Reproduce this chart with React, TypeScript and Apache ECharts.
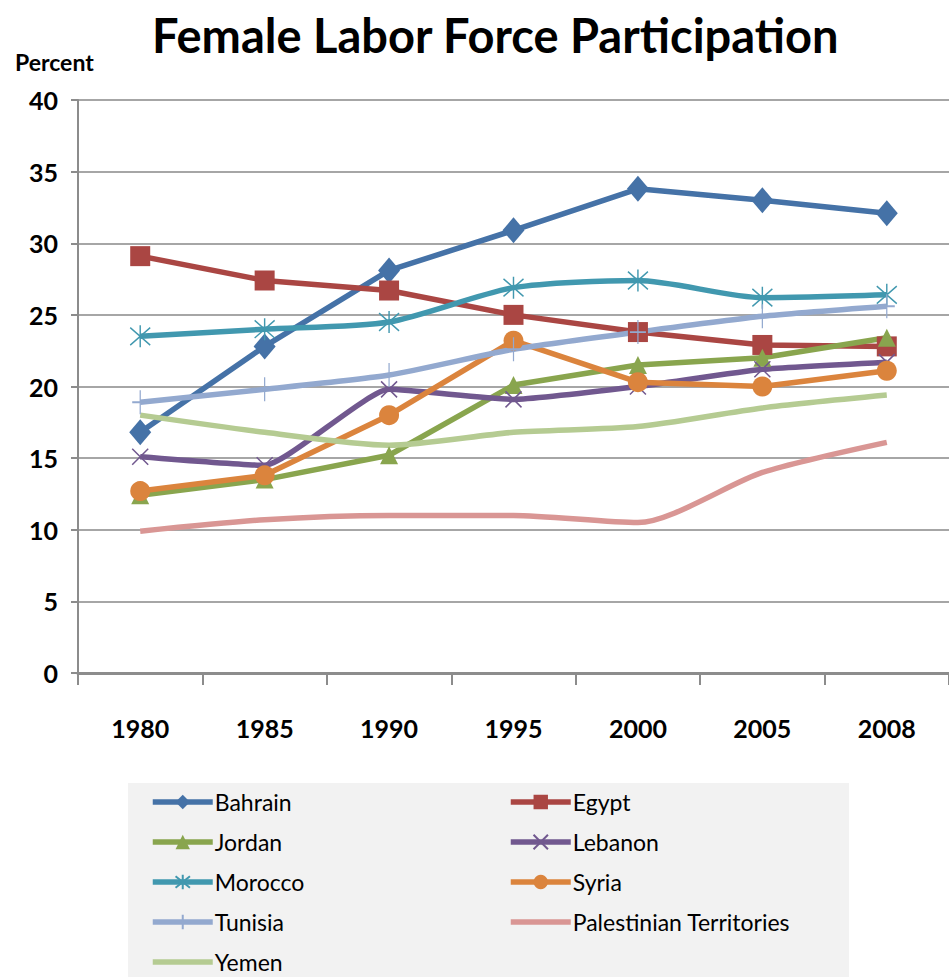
import React, { useEffect, useRef } from "react";
import * as echarts from "echarts";

const years = ["1980", "1985", "1990", "1995", "2000", "2005", "2008"];
const bahrain = [16.8, 22.8, 28.1, 30.9, 33.8, 33.0, 32.1];
const egypt = [29.1, 27.4, 26.7, 25.0, 23.8, 22.9, 22.8];
const jordan = [12.4, 13.5, 15.2, 20.1, 21.5, 22.0, 23.4];
const lebanon = [15.1, 14.5, 19.8, 19.1, 20.0, 21.2, 21.7];
const morocco = [23.5, 24.0, 24.5, 26.9, 27.4, 26.2, 26.4];
const syria = [12.7, 13.8, 18.0, 23.2, 20.3, 20.0, 21.1];
const tunisia = [18.9, 19.8, 20.8, 22.6, 23.8, 24.9, 25.6];
const palestinian = [9.9, 10.7, 11.0, 11.0, 10.5, 14.0, 16.1];
const yemen = [18.0, 16.8, 15.9, 16.8, 17.2, 18.5, 19.4];
const yTicks = [0, 5, 10, 15, 20, 25, 30, 35, 40];

const FONT = "Lato, 'Open Sans', sans-serif";

const X_SYM = "path://M0,0L10,10M10,0L0,10";
const STAR_SYM = "path://M5,0L5,10M0,1L10,9M10,1L0,9";
const PLUS_SYM = "path://M5,0L5,10M2,5L8,5";
const LINE_ICON =
  "path://M0,0L0.01,0L0,0.01Z M0,6.25L60,6.25L60,11.75L0,11.75Z M60,18L59.99,18L60,17.99Z";

function mk(name: string, data: number[], color: string, symbol: string, size: number | number[], opts: any = {}) {
  const stroked = symbol.startsWith("path://");
  return {
    name,
    type: "line",
    data,
    symbol,
    symbolSize: size,
    showSymbol: symbol !== "none",
    smooth: opts.smooth ?? 0,
    lineStyle: { color, width: 5.5 },
    itemStyle: stroked
      ? { color, borderColor: color, borderWidth: 1.5 }
      : { color, borderWidth: 0 },
    emphasis: { disabled: true },
  };
}

export default function App() {
  const ref = useRef<HTMLDivElement>(null);
  useEffect(() => {
    const chart = echarts.init(ref.current!, undefined, { renderer: "svg" });
    const series = [
      mk("Bahrain", bahrain, "#4572A7", "diamond", [22, 26]),
      mk("Egypt", egypt, "#AA4643", "rect", 20),
      mk("Jordan", jordan, "#89A54E", "triangle", 18),
      mk("Lebanon", lebanon, "#71588F", X_SYM, 16, { smooth: 0.15 }),
      mk("Morocco", morocco, "#4198AF", STAR_SYM, [20, 22], { smooth: 0.25 }),
      mk("Syria", syria, "#DB843D", "circle", 20),
      mk("Tunisia", tunisia, "#93A9CF", PLUS_SYM, [16, 24], { smooth: 0.2 }),
      mk("Palestinian Territories", palestinian, "#D99694", "none", 0, { smooth: 0.25 }),
      mk("Yemen", yemen, "#B5CB92", "none", 0, { smooth: 0.25 }),
    ];
    const legendText = { fontFamily: FONT, fontSize: 23, lineHeight: 24, color: "#000", padding: [0, 0, 0, -3] };
    const legendBase = {
      orient: "vertical",
      top: 785,
      height: 192,
      itemWidth: 60,
      itemHeight: 18,
      itemGap: 16,
      textStyle: legendText,
      lineStyle: { width: 5.5 },
      selectedMode: false,
    };
    chart.setOption({
      animation: false,
      backgroundColor: "#fff",
      title: {
        text: "Female Labor Force Participation",
        left: 147,
        top: 6,
        textStyle: { fontFamily: FONT, fontWeight: "bold", fontSize: 47, color: "#000" },
      },
      graphic: [
        {
          type: "rect",
          left: 128,
          top: 783,
          shape: { width: 721, height: 194 },
          style: { fill: "#F2F2F2" },
          z: -10,
        },
        {
          type: "text",
          left: 15,
          top: 50,
          style: { text: "Percent", fontFamily: FONT, fontWeight: "bold", fontSize: 23, fill: "#000" },
        },
      ],
      legend: [
        {
          ...legendBase,
          left: 145,
          data: [
            "Bahrain",
            "Jordan",
            "Morocco",
            "Tunisia",
            { name: "Yemen", icon: LINE_ICON },
          ],
        },
        {
          ...legendBase,
          left: 503,
          data: ["Egypt", "Lebanon", "Syria", { name: "Palestinian Territories", icon: LINE_ICON }],
        },
      ],
      grid: { left: 78, right: 0, top: 100, bottom: 304, containLabel: false },
      xAxis: {
        type: "category",
        data: years,
        boundaryGap: true,
        axisLine: { lineStyle: { color: "#8C8C8C", width: 3 } },
        axisTick: { show: true, length: 12, lineStyle: { color: "#8C8C8C", width: 2 } },
        axisLabel: { fontFamily: FONT, fontWeight: "bold", fontSize: 25, color: "#000", margin: 42 },
        splitLine: { show: false },
      },
      yAxis: {
        type: "value",
        min: yTicks[0],
        max: yTicks[yTicks.length - 1],
        interval: 5,
        axisLine: { show: true, lineStyle: { color: "#8C8C8C", width: 2 } },
        axisTick: { show: true, length: 7, lineStyle: { color: "#8C8C8C", width: 2 } },
        axisLabel: { fontFamily: FONT, fontWeight: "bold", fontSize: 25, color: "#000", margin: 20 },
        splitLine: { lineStyle: { color: "#A6A6A6", width: 2 } },
      },
      series,
    });
    return () => chart.dispose();
  }, []);
  return <div ref={ref} style={{ width: 949, height: 977, position: "absolute", left: 0, top: 0 }} />;
}
